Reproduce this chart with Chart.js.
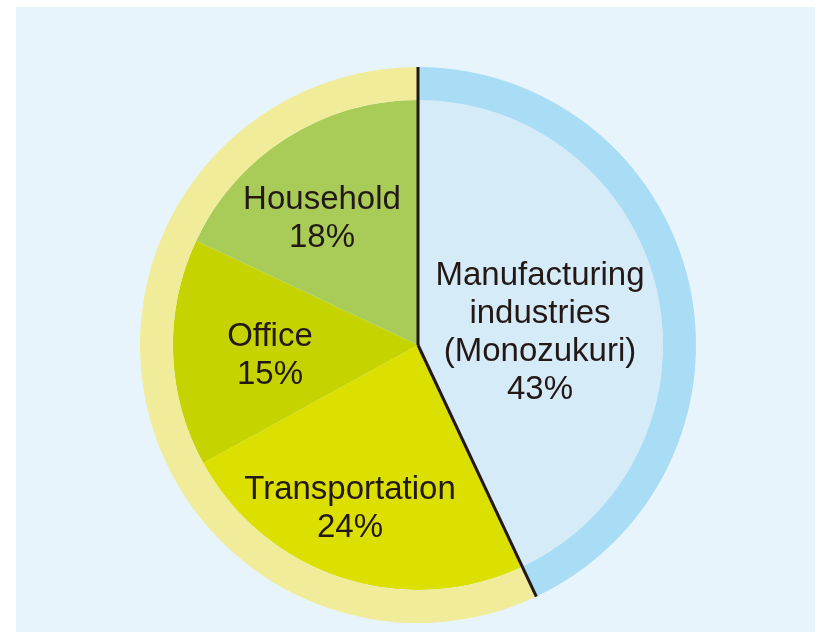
<!DOCTYPE html>
<html>
<head>
<meta charset="utf-8">
<script src="https://cdn.jsdelivr.net/npm/chart.js@4"></script>
<style>
  html, body { margin: 0; padding: 0; background: #ffffff; }
  #wrap { width: 819px; height: 636px; }
</style>
</head>
<body>
<div id="wrap"><canvas id="myChart" width="819" height="636"></canvas></div>
<script>
// sectors, clockwise from 12 o'clock
const sectors = ['Manufacturing industries (Monozukuri)', 'Transportation', 'Office', 'Household'];
const shares = [43, 24, 15, 18];
const sectorColors = ['#d5ebf8', '#dce000', '#c5d400', '#a9cc58'];
// outer ring: manufacturing vs. the rest
const ringGroups = ['Manufacturing', 'Others'];
const ringShares = [43, 57];
const ringColors = ['#a9dcf5', '#f0ec99'];
// label text lines for each sector
const labelLines = [
    ['Manufacturing', 'industries', '(Monozukuri)', '43%'],
    ['Transportation', '24%'],
    ['Office', '15%'],
    ['Household', '18%']
];

const bgPlugin = {
    id: 'bgBox',
    beforeDraw(chart) {
        const ctx = chart.ctx;
        ctx.save();
        ctx.fillStyle = '#e8f4fc';
        ctx.fillRect(16, 7, 799, 625);
        ctx.restore();
    }
};

const linesAndLabels = {
    id: 'linesAndLabels',
    afterDatasetsDraw(chart) {
        const ctx = chart.ctx;
        const outer = chart.getDatasetMeta(0).data[0];
        const inner = chart.getDatasetMeta(1).data;
        const cx = outer.x, cy = outer.y, R = outer.outerRadius;
        // dark dividers around the manufacturing slice
        ctx.save();
        ctx.strokeStyle = '#231815';
        ctx.lineWidth = 3;
        [inner[0].startAngle, inner[0].endAngle].forEach(a => {
            ctx.beginPath();
            ctx.moveTo(cx, cy);
            ctx.lineTo(cx + Math.cos(a) * R, cy + Math.sin(a) * R);
            ctx.stroke();
        });
        // labels
        const offsets = [[122, -12], [-68, 164], [-148, 11], [-96, -126]];
        ctx.fillStyle = '#231815';
        ctx.font = '33px "Liberation Sans", Arial, sans-serif';
        ctx.textAlign = 'center';
        ctx.textBaseline = 'middle';
        const lh = 38;
        labelLines.forEach((lines, i) => {
            const x = cx + offsets[i][0];
            const y0 = cy + offsets[i][1] - (lines.length - 1) * lh / 2;
            lines.forEach((t, j) => ctx.fillText(t, x, y0 + j * lh));
        });
        ctx.restore();
    }
};

const ctx = document.getElementById('myChart').getContext('2d');
const myChart = new Chart(ctx, {
    type: 'pie',
    data: {
        labels: sectors,
        datasets: [{
                label: 'Ring',
                data: ringShares,
                backgroundColor: ringColors,
                borderWidth: 0,
                weight: 1
            }, {
                label: 'Share',
                data: shares,
                backgroundColor: sectorColors,
                borderWidth: 0,
                weight: 7.45
            }]
    },
    options: {
        responsive: false,
        animation: false,
        layout: {
            padding: { left: 140, right: 123, top: 67, bottom: 13 }
        },
        plugins: {
            legend: { display: false },
            tooltip: { enabled: false }
        }
    },
    plugins: [bgPlugin, linesAndLabels]
});
</script>
</body>
</html>
